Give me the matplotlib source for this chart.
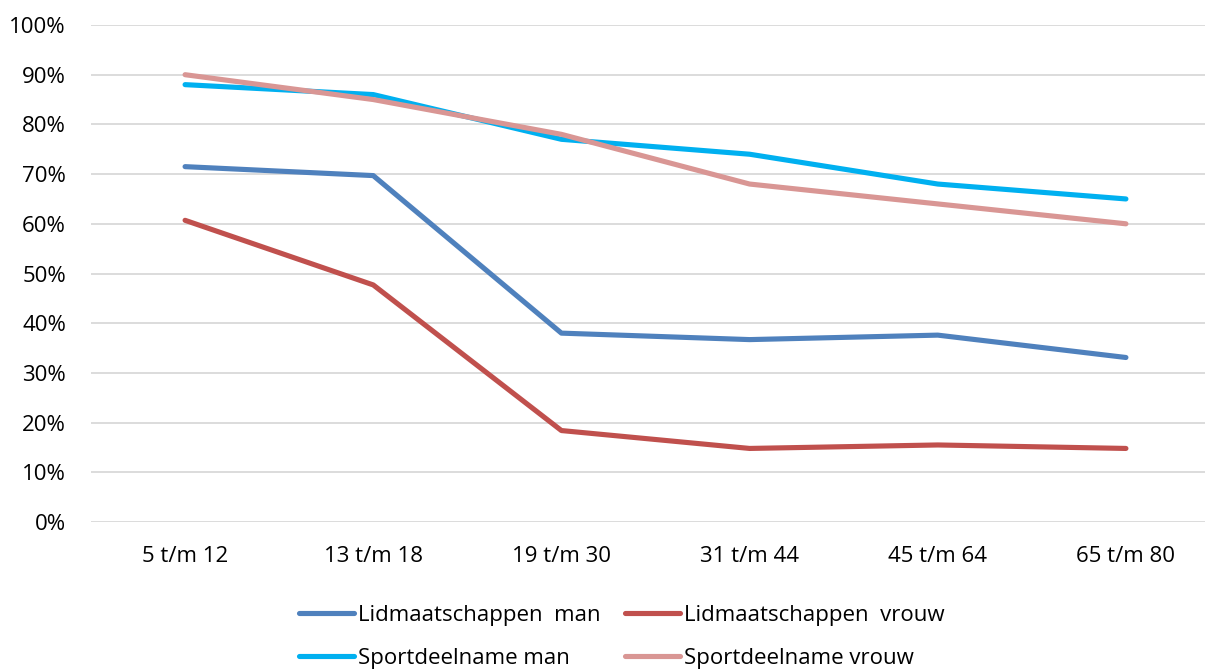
import matplotlib
matplotlib.use("Agg")
import matplotlib.pyplot as plt
from matplotlib.ticker import FuncFormatter

categories = ["5 t/m 12", "13 t/m 18", "19 t/m 30", "31 t/m 44", "45 t/m 64", "65 t/m 80"]
lid_man = [71.5, 69.7, 38.0, 36.7, 37.6, 33.1]
lid_vrouw = [60.7, 47.7, 18.4, 14.8, 15.5, 14.8]
sport_man = [88, 86, 77, 74, 68, 65]
sport_vrouw = [90, 85, 78, 68, 64, 60]
labels = ["Lidmaatschappen  man", "Lidmaatschappen  vrouw", "Sportdeelname man", "Sportdeelname vrouw"]
colors = ["#4F81BD", "#C0504D", "#00B0F0", "#D99694"]
yticks = list(range(0, 101, 10))

plt.rcParams['font.family'] = ['Open Sans', 'DejaVu Sans']

W, H = 1205, 672
fig = plt.figure(figsize=(W / 100, H / 100), dpi=100)
left = 91 / W
right = 1220 / W
bottom = 1 - 522 / H
top = 1 - 25 / H
ax = fig.add_axes([left, bottom, right - left, top - bottom])

x = list(range(len(categories)))
series = [lid_man, lid_vrouw, sport_man, sport_vrouw]
handles = []
for s, c, l in zip(series, colors, labels):
    h, = ax.plot(x, s, color=c, lw=3.7, solid_capstyle='round', solid_joinstyle='round', label=l)
    handles.append(h)

ax.set_xlim(-0.5, len(categories) - 0.5)
ax.set_ylim(0, 100)
ax.set_yticks(yticks)
ax.yaxis.set_major_formatter(FuncFormatter(lambda v, p: f"{int(v)}%"))
ax.set_xticks(x)
ax.set_xticklabels(categories)
ax.grid(axis='y', color='#D9D9D9', lw=1.3)
ax.set_axisbelow(True)
for sp in ax.spines.values():
    sp.set_visible(False)
ax.tick_params(axis='both', length=0, labelsize=16, colors='#000000')
ax.tick_params(axis='y', pad=18)
ax.tick_params(axis='x', pad=17)

order = [0, 2, 1, 3]
leg = fig.legend([handles[i] for i in order], [labels[i] for i in order],
                 ncol=2, loc='center', bbox_to_anchor=(622 / W, 1 - 637 / H),
                 frameon=False, fontsize=16, handlelength=2.45, handletextpad=0.2,
                 columnspacing=1.1, labelspacing=1.0)

fig.savefig("out.png", dpi=100)
